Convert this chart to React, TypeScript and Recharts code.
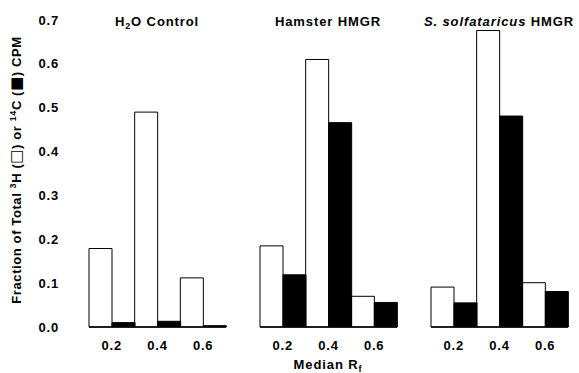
import React from "react";
import { BarChart, Bar, XAxis, YAxis } from "recharts";

// Categories (median Rf) and y ticks
const categories = ["0.2", "0.4", "0.6"];
const yTicks = [0, 0.1, 0.2, 0.3, 0.4, 0.5, 0.6, 0.7];

// Fraction of total 3H (open bars) and 14C (filled bars)
const h2oTritium = [0.179, 0.49, 0.112];
const h2oCarbon = [0.01, 0.013, 0.003];
const hamsterTritium = [0.185, 0.61, 0.07];
const hamsterCarbon = [0.119, 0.466, 0.056];
const solfTritium = [0.091, 0.676, 0.101];
const solfCarbon = [0.055, 0.481, 0.081];

const FONT = "'Liberation Sans', Arial, Helvetica, sans-serif";
const tickStyle = { fill: "#000", fontSize: 13, fontWeight: "bold", fontFamily: FONT, letterSpacing: 0.8 };

const build = (t: number[], c: number[]) => categories.map((cat, i) => ({ cat, h: t[i], c: c[i] }));

function Panel({ t, c, showY, left, width }: { t: number[]; c: number[]; showY: boolean; left: number; width: number }) {
  return (
    <div style={{ position: "absolute", left, top: 0 }}>
      <BarChart
        width={width}
        height={373}
        data={build(t, c)}
        margin={{ top: 20, right: 2, bottom: 16, left: showY ? 0 : 2 }}
        barCategoryGap={0}
        barGap={0}
      >
        <XAxis
          dataKey="cat"
          interval={0}
          tickLine={false}
          tickSize={0}
          tickMargin={14}
          height={30}
          axisLine={{ stroke: "#000", strokeWidth: 1.5 }}
          tick={tickStyle}
        />
        <YAxis
          hide={!showY}
          domain={[0, 0.7]}
          ticks={yTicks}
          interval={0}
          tickFormatter={(v: number) => v.toFixed(1)}
          axisLine={false}
          tickLine={false}
          tickSize={0}
          tickMargin={30}
          width={89}
          tick={tickStyle}
        />
        <Bar dataKey="h" fill="#fff" stroke="#000" strokeWidth={1} isAnimationActive={false} />
        <Bar dataKey="c" fill="#000" stroke="#000" strokeWidth={1} isAnimationActive={false} />
      </BarChart>
    </div>
  );
}

export default function App() {
  const ts = { fontFamily: FONT, fontWeight: "bold" as const, fontSize: 13, fill: "#000", letterSpacing: 0.9 };
  return (
    <div style={{ position: "absolute", left: 0, top: 0, width: 579, height: 373, background: "#fff" }}>
      <Panel t={h2oTritium} c={h2oCarbon} showY={true} left={0} width={228} />
      <Panel t={hamsterTritium} c={hamsterCarbon} showY={false} left={258} width={141} />
      <Panel t={solfTritium} c={solfCarbon} showY={false} left={429} width={141} />
      <svg width={579} height={373} style={{ position: "absolute", left: 0, top: 0, pointerEvents: "none" }}>
        <text x={157} y={26} textAnchor="middle" {...ts}>
          H<tspan fontSize={9} dy={3}>2</tspan><tspan dy={-3}>O Control</tspan>
        </text>
        <text x={328} y={26} textAnchor="middle" {...ts}>
          Hamster HMGR
        </text>
        <text x={499} y={26} textAnchor="middle" {...ts}>
          <tspan fontStyle="italic">S. solfataricus</tspan> HMGR
        </text>
        <text x={328} y={369} textAnchor="middle" {...ts}>
          Median R<tspan fontSize={9} dy={3}>f</tspan>
        </text>
        <text x={21} y={170} textAnchor="middle" transform="rotate(-90, 21, 170)" {...ts} letterSpacing={0.6}>
          Fraction of Total <tspan fontSize={9} dy={-5}>3</tspan>
          <tspan dy={5}>H (</tspan>
          <tspan fontFamily="'DejaVu Sans', sans-serif" fontWeight="normal" fontSize={15}>□</tspan>
          <tspan>) or </tspan>
          <tspan fontSize={9} dy={-5}>14</tspan>
          <tspan dy={5}>C (</tspan>
          <tspan fontFamily="'DejaVu Sans', sans-serif" fontWeight="normal" fontSize={15}>■</tspan>
          <tspan>) CPM</tspan>
        </text>
      </svg>
    </div>
  );
}
